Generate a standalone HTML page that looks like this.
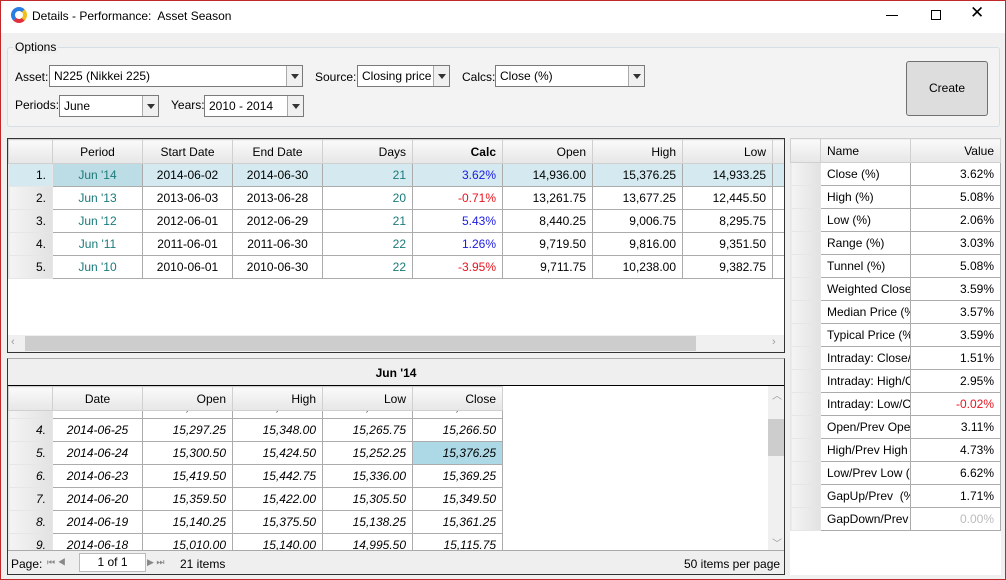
<!DOCTYPE html>
<html><head><meta charset="utf-8"><style>
*{box-sizing:border-box;margin:0;padding:0}
body{width:1006px;height:580px;overflow:hidden;background:#f0f0f0;font:12px "Liberation Sans",sans-serif;color:#000;position:relative}
.a{position:absolute}
.frame{left:0;top:0;width:1006px;height:580px;border:1px solid #c0282a;pointer-events:none;z-index:9}
.cb{background:#fff;border:1px solid #7a7a7a;height:22px;padding:3px 4px;font-size:12px;white-space:nowrap;overflow:hidden}
.cb .ar{position:absolute;right:0;top:0;width:16px;height:20px;border-left:1px solid #aaa;background:#f0f0f0}
.cb .ar:after{content:"";position:absolute;left:4px;top:8px;border:4px solid transparent;border-top:5px solid #333}
table{border-collapse:collapse;table-layout:fixed;position:absolute}
td,th{height:23px;border:1px solid #ababab;padding:0 6px;white-space:nowrap;overflow:hidden;font-weight:normal;font-size:12px}
th{background:linear-gradient(#fafafa,#e6e6e6);height:24px;border-color:#d0d0d0}
td.rh{background:linear-gradient(90deg,#f4f4f4,#e2e2e2);border-color:#e6e6e6;text-align:right}
td{background:#fff;text-align:right}
.c{text-align:center}.l{text-align:left}
.teal{color:#1a7a7a}.blue{color:#1a1ae6}.red{color:#e6141e}
.sel td{background:#d4eaf0}.sel td.selp{background:#bcdde6}
.it td{font-style:italic}
</style></head><body>
<div class="a frame"></div>
<div class="a" style="left:1px;top:1px;width:1004px;height:32px;background:#fff"></div>
<div class="a" style="left:11px;top:7px;width:16px;height:16px;border-radius:50%;border:4px solid #2a7de1;border-right-color:#f0c020;border-bottom-color:#e0303a"></div>
<div class="a" style="left:32px;top:9px;font-size:12px">Details - Performance:&nbsp; Asset Season</div>
<div class="a" style="left:886px;top:15px;width:12px;height:1px;background:#000"></div>
<div class="a" style="left:931px;top:10px;width:10px;height:10px;border:1px solid #000"></div>
<div class="a" style="left:970px;top:3px;font-size:17px">✕</div>

<div class="a" style="left:7px;top:47px;width:993px;height:80px;border:1px solid #d5dfe5;border-radius:3px;background:#f3f3f3"></div>
<div class="a" style="left:13px;top:40px;padding:0 2px;background:#f0f0f0">Options</div>
<div class="a" style="left:15px;top:70px">Asset:</div>
<div class="a cb" style="left:49px;top:65px;width:254px">N225 (Nikkei 225)<span class="ar"></span></div>
<div class="a" style="left:315px;top:70px">Source:</div>
<div class="a cb" style="left:357px;top:65px;width:93px">Closing price<span class="ar"></span></div>
<div class="a" style="left:462px;top:70px">Calcs:</div>
<div class="a cb" style="left:495px;top:65px;width:150px">Close (%)<span class="ar"></span></div>
<div class="a" style="left:15px;top:98px">Periods:</div>
<div class="a cb" style="left:59px;top:95px;width:100px">June<span class="ar"></span></div>
<div class="a" style="left:171px;top:98px">Years:</div>
<div class="a cb" style="left:204px;top:95px;width:100px">2010 - 2014<span class="ar"></span></div>
<div class="a" style="left:906px;top:61px;width:82px;height:55px;background:#dddddd;border:1px solid #707070;border-radius:3px;text-align:center;line-height:53px">Create</div>

<!-- top grid -->
<div class="a" style="left:7px;top:138px;width:778px;height:215px;background:#fff;border:1px solid #333;overflow:hidden">
<table style="left:0;top:0;width:778px">
<colgroup><col style="width:44px"><col style="width:90px"><col style="width:90px"><col style="width:90px"><col style="width:90px"><col style="width:90px"><col style="width:90px"><col style="width:90px"><col style="width:90px"><col style="width:14px"></colgroup>
<tr><th></th><th class="c">Period</th><th class="c">Start Date</th><th class="c">End Date</th><th style="text-align:right">Days</th><th style="text-align:right;font-weight:bold">Calc</th><th style="text-align:right">Open</th><th style="text-align:right">High</th><th style="text-align:right">Low</th><th></th></tr>
<tr class="sel"><td class="rh">1.</td><td class="c teal selp">Jun '14</td><td class="c">2014-06-02</td><td class="c">2014-06-30</td><td class="teal">21</td><td class="blue">3.62%</td><td>14,936.00</td><td>15,376.25</td><td>14,933.25</td><td></td></tr>
<tr><td class="rh">2.</td><td class="c teal">Jun '13</td><td class="c">2013-06-03</td><td class="c">2013-06-28</td><td class="teal">20</td><td class="red">-0.71%</td><td>13,261.75</td><td>13,677.25</td><td>12,445.50</td><td></td></tr>
<tr><td class="rh">3.</td><td class="c teal">Jun '12</td><td class="c">2012-06-01</td><td class="c">2012-06-29</td><td class="teal">21</td><td class="blue">5.43%</td><td>8,440.25</td><td>9,006.75</td><td>8,295.75</td><td></td></tr>
<tr><td class="rh">4.</td><td class="c teal">Jun '11</td><td class="c">2011-06-01</td><td class="c">2011-06-30</td><td class="teal">22</td><td class="blue">1.26%</td><td>9,719.50</td><td>9,816.00</td><td>9,351.50</td><td></td></tr>
<tr><td class="rh">5.</td><td class="c teal">Jun '10</td><td class="c">2010-06-01</td><td class="c">2010-06-30</td><td class="teal">22</td><td class="red">-3.95%</td><td>9,711.75</td><td>10,238.00</td><td>9,382.75</td><td></td></tr>
</table>
<div class="a" style="left:0;top:196px;width:776px;height:17px;background:#f0f0f0"></div>
<div class="a" style="left:17px;top:197px;width:671px;height:15px;background:#cdcdcd"></div>
<div class="a" style="left:3px;top:197px;color:#999;font-size:11px">‹</div>
<div class="a" style="left:764px;top:197px;color:#999;font-size:11px">›</div>
</div>

<!-- bottom grid -->
<div class="a" style="left:7px;top:358px;width:778px;height:217px;background:#fff;border:1px solid #333;border-top:1px solid #aaa;overflow:hidden">
<div class="a" style="left:0;top:0;width:776px;height:27px;background:#efefef;border-bottom:1px solid #000;text-align:center;font-weight:bold;line-height:28px">Jun '14</div>
<div class="a" style="left:0;top:27px;width:761px;height:164px;overflow:hidden">
<table style="left:0;top:9px;width:494px">
<colgroup><col style="width:44px"><col style="width:90px"><col style="width:90px"><col style="width:90px"><col style="width:90px"><col style="width:90px"></colgroup>
<tr class="it"><td class="rh">3.</td><td class="c">2014-06-26</td><td>15,320.25</td><td>15,345.00</td><td>15,278.25</td><td>15,308.50</td></tr>
<tr class="it"><td class="rh">4.</td><td class="c">2014-06-25</td><td>15,297.25</td><td>15,348.00</td><td>15,265.75</td><td>15,266.50</td></tr>
<tr class="it"><td class="rh">5.</td><td class="c">2014-06-24</td><td>15,300.50</td><td>15,424.50</td><td>15,252.25</td><td style="background:#add8e6">15,376.25</td></tr>
<tr class="it"><td class="rh">6.</td><td class="c">2014-06-23</td><td>15,419.50</td><td>15,442.75</td><td>15,336.00</td><td>15,369.25</td></tr>
<tr class="it"><td class="rh">7.</td><td class="c">2014-06-20</td><td>15,359.50</td><td>15,422.00</td><td>15,305.50</td><td>15,349.50</td></tr>
<tr class="it"><td class="rh">8.</td><td class="c">2014-06-19</td><td>15,140.25</td><td>15,375.50</td><td>15,138.25</td><td>15,361.25</td></tr>
<tr class="it"><td class="rh">9.</td><td class="c">2014-06-18</td><td>15,010.00</td><td>15,140.00</td><td>14,995.50</td><td>15,115.75</td></tr>
</table>
<table style="left:0;top:0;width:494px">
<colgroup><col style="width:44px"><col style="width:90px"><col style="width:90px"><col style="width:90px"><col style="width:90px"><col style="width:90px"></colgroup>
<tr><th></th><th class="c">Date</th><th style="text-align:right">Open</th><th style="text-align:right">High</th><th style="text-align:right">Low</th><th style="text-align:right">Close</th></tr>
</table>
</div>
<div class="a" style="left:760px;top:27px;width:17px;height:164px;background:#f0f0f0"></div>
<div class="a" style="left:760px;top:60px;width:17px;height:37px;background:#cdcdcd"></div>
<div class="a" style="left:764px;top:28px;color:#999;font-size:10px">︿</div>
<div class="a" style="left:764px;top:176px;color:#999;font-size:10px">﹀</div>
<div class="a" style="left:0;top:191px;width:776px;height:25px;background:#efefef;border-top:1px solid #aaa"></div>
<div class="a" style="left:3px;top:198px">Page:</div>
<div class="a" style="left:39px;top:198px;color:#888;font-size:9px">⏮ ◀</div>
<div class="a" style="left:71px;top:194px;width:67px;height:19px;background:#fff;border:1px solid #bbb;text-align:center;line-height:17px">1 of 1</div>
<div class="a" style="left:139px;top:198px;color:#888;font-size:9px">▶ ⏭</div>
<div class="a" style="left:172px;top:198px">21 items</div>
<div class="a" style="left:676px;top:198px">50 items per page</div>
</div>

<!-- right grid -->
<div class="a" style="left:790px;top:138px;width:211px;height:437px;background:#fff"></div>
<table style="left:790px;top:138px;width:210px">
<colgroup><col style="width:30px"><col style="width:90px"><col style="width:90px"></colgroup>
<tr><th></th><th class="l">Name</th><th style="text-align:right">Value</th></tr>
<tr><td class="rh"></td><td class="l">Close (%)</td><td>3.62%</td></tr>
<tr><td class="rh"></td><td class="l">High (%)</td><td>5.08%</td></tr>
<tr><td class="rh"></td><td class="l">Low (%)</td><td>2.06%</td></tr>
<tr><td class="rh"></td><td class="l">Range (%)</td><td>3.03%</td></tr>
<tr><td class="rh"></td><td class="l">Tunnel (%)</td><td>5.08%</td></tr>
<tr><td class="rh"></td><td class="l" style="text-overflow:clip">Weighted Close</td><td>3.59%</td></tr>
<tr><td class="rh"></td><td class="l">Median Price (%</td><td>3.57%</td></tr>
<tr><td class="rh"></td><td class="l">Typical Price (%</td><td>3.59%</td></tr>
<tr><td class="rh"></td><td class="l">Intraday: Close/</td><td>1.51%</td></tr>
<tr><td class="rh"></td><td class="l">Intraday: High/O</td><td>2.95%</td></tr>
<tr><td class="rh"></td><td class="l">Intraday: Low/C</td><td class="red">-0.02%</td></tr>
<tr><td class="rh"></td><td class="l">Open/Prev Open</td><td>3.11%</td></tr>
<tr><td class="rh"></td><td class="l">High/Prev High</td><td>4.73%</td></tr>
<tr><td class="rh"></td><td class="l">Low/Prev Low (</td><td>6.62%</td></tr>
<tr><td class="rh"></td><td class="l">GapUp/Prev &nbsp;(%</td><td>1.71%</td></tr>
<tr><td class="rh"></td><td class="l">GapDown/Prev</td><td style="color:#bbb">0.00%</td></tr>
</table>
</body></html>
